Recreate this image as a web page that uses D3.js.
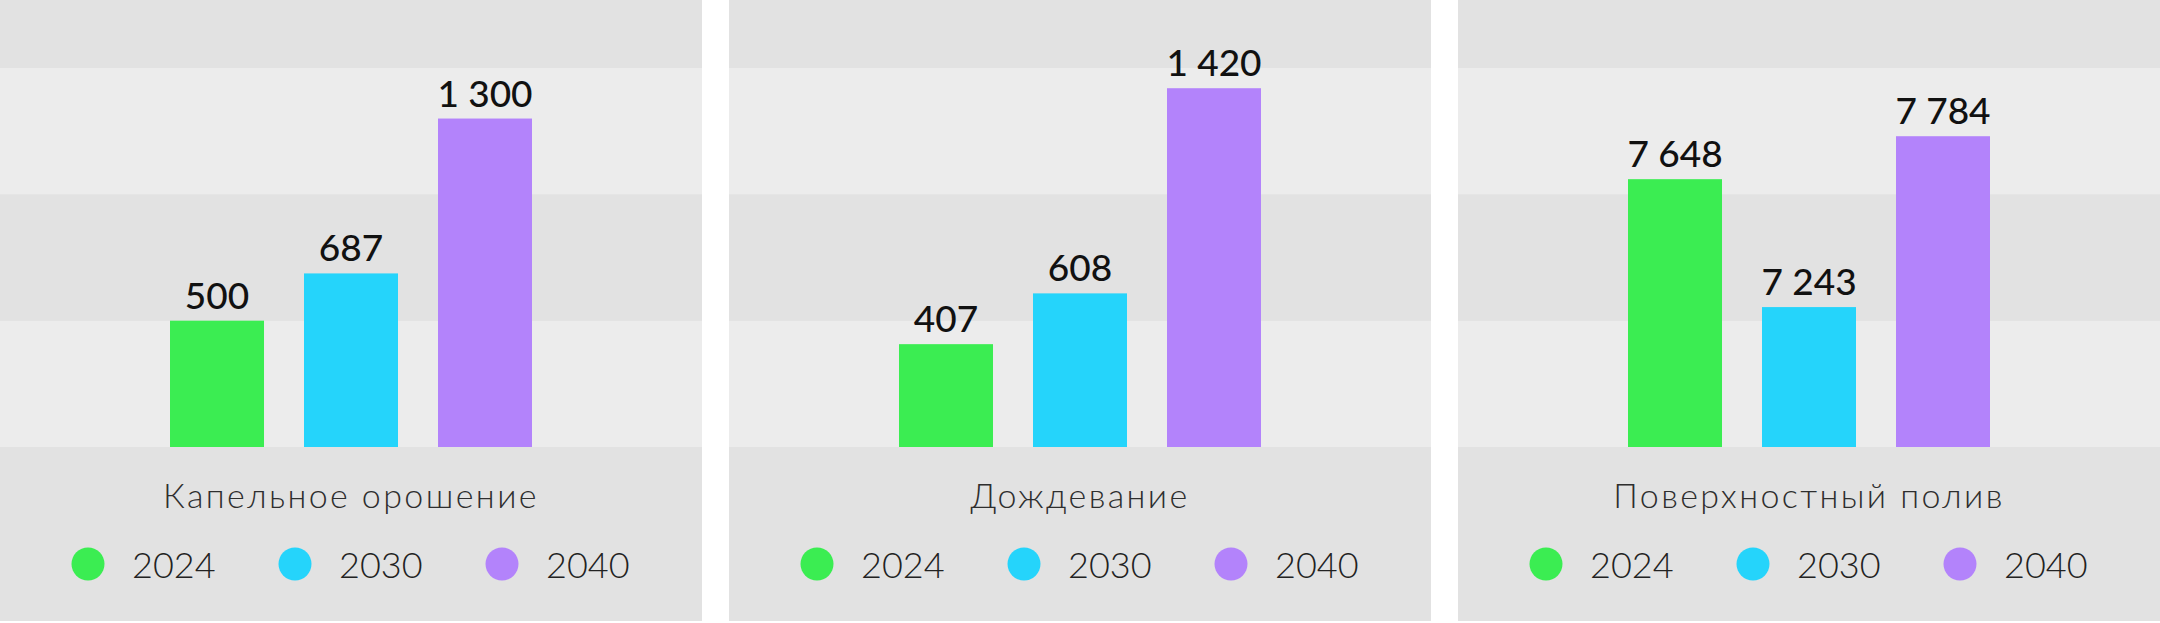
<!DOCTYPE html>
<html><head><meta charset="utf-8">
<script src="https://cdn.jsdelivr.net/npm/d3@7"></script>
<style>
html,body{margin:0;padding:0;background:#fff;}
svg{display:block;}
text{font-family:Lato,'Noto Sans',sans-serif;}
</style></head>
<body>
<svg id="chart" width="2160" height="623"></svg>
<script>
const years = ["2024", "2030", "2040"];
const colors = ["#3bed52", "#25d4fb", "#b383fb"];
const categories = ["Капельное орошение", "Дождевание", "Поверхностный полив"];
const dripValues = [500, 687, 1300];
const sprinkleValues = [407, 608, 1420];
const surfaceValues = [7648, 7243, 7784];
const domains = [[0, 1500], [0, 1500], [6800, 8000]];
const tickValues = [[0, 500, 1000, 1500], [0, 500, 1000, 1500], [6800, 7200, 7600, 8000]];
const seriesByPanel = [dripValues, sprinkleValues, surfaceValues];

const W = 2160, H = 623;
const panelW = 702, panelStep = 729, panelH = 621;
const plotTop = 68, plotBottom = 447;
const dark = "#e2e2e2", light = "#ececec";

const svg = d3.select("#chart");
const fmt = d3.formatLocale({decimal: ",", thousands: "\u00a0", grouping: [3], currency: ["", ""]}).format(",d");

categories.forEach((cat, i) => {
  const g = svg.append("g").attr("transform", `translate(${i * panelStep},0)`);
  const vals = seriesByPanel[i];
  const y = d3.scaleLinear().domain(domains[i]).range([plotBottom, plotTop]);
  const x = d3.scaleBand().domain(years).range([panelW / 2 - 201, panelW / 2 + 201]).paddingInner(0.2985).paddingOuter(0.1493);

  // background
  g.append("rect").attr("x", 0).attr("y", 0).attr("width", panelW).attr("height", panelH).attr("fill", dark);
  const bands = d3.pairs(tickValues[i]);
  g.selectAll("rect.band").data(bands).join("rect")
    .attr("class", "band")
    .attr("x", 0).attr("width", panelW)
    .attr("y", d => y(d[1]))
    .attr("height", d => y(d[0]) - y(d[1]))
    .attr("fill", (d, k) => (k % 2 === 0 ? light : dark));

  // bars
  g.selectAll("rect.bar").data(vals).join("rect")
    .attr("class", "bar")
    .attr("x", (d, k) => x(years[k]))
    .attr("width", x.bandwidth())
    .attr("y", d => y(d))
    .attr("height", d => y(domains[i][0]) - y(d))
    .attr("fill", (d, k) => colors[k]);

  // value labels
  g.selectAll("text.val").data(vals).join("text")
    .attr("class", "val")
    .attr("x", (d, k) => x(years[k]) + x.bandwidth() / 2)
    .attr("y", d => y(d) - 12)
    .attr("text-anchor", "middle")
    .attr("font-size", 37)
    .attr("font-weight", 500)
    .attr("fill", "#111")
    .text(d => fmt(d));

  // category title
  g.append("text")
    .attr("x", panelW / 2).attr("y", 508)
    .attr("text-anchor", "middle")
    .attr("font-size", 34)
    .attr("letter-spacing", 2.4)
    .attr("font-weight", 300)
    .attr("fill", "#2e2e2e")
    .text(cat);

  // legend
  const lg = g.selectAll("g.leg").data(years).join("g")
    .attr("class", "leg")
    .attr("transform", (d, k) => `translate(${88 + k * 207},564)`);
  lg.append("circle").attr("r", 16.5).attr("fill", (d, k) => colors[k]);
  lg.append("text").attr("x", 44).attr("y", 14)
    .attr("font-size", 36).attr("font-weight", 300).attr("fill", "#222")
    .text(d => d);
});
</script>
</body></html>
